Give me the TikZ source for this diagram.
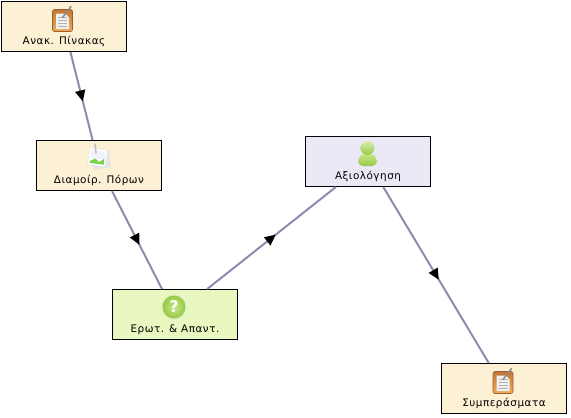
\documentclass[tikz,border=0pt]{standalone}
\usepackage{fontspec}
\setmainfont[LetterSpace=5]{DejaVu Sans}
\usetikzlibrary{arrows.meta,decorations.markings}
\definecolor{creamfill}{RGB}{252,241,212}
\definecolor{greenfill}{RGB}{233,247,193}
\definecolor{lilacfill}{RGB}{235,233,246}
\definecolor{flowgray}{RGB}{140,140,175}
\definecolor{clipdark}{RGB}{196,118,58}
\definecolor{cliplight}{RGB}{238,172,84}
\definecolor{limelight}{RGB}{200,232,135}
\definecolor{limedark}{RGB}{150,200,72}
\tikzset{
  taskbox/.style={draw=black, line width=1pt, inner xsep=0pt, inner ysep=2pt,
    minimum width=125pt, minimum height=50pt,
    text height=39.5pt, text depth=3pt, font=\fontsize{10.4}{12}\selectfont},
  flow/.style={draw=flowgray, line width=2pt, xshift=-1pt, postaction={decorate},
    decoration={markings, mark=at position 0.5 with
      {\arrow[xshift=5.5pt,black]{Triangle[length=11pt,width=10pt]}}}},
  clipicon/.pic={
    \draw[draw=clipdark!80!black, line width=0.6pt, rounded corners=2pt, top color=clipdark, bottom color=cliplight]
      (-10,-11) rectangle (10,11);
    \fill[black!6] (-6.5,-7) -- (3,-7) -- (6.5,-3) -- (6.5,8.5) -- (-6.5,8.5) -- cycle;
    \foreach \liney in {-3,0,3,6}
      \draw[black!30, line width=0.5pt] (-4.5,\liney) -- (4.5,\liney);
    \draw[black!45, line width=1.5pt, line cap=round] (0,-3) -- (8.5,-14);
  },
  photoicon/.pic={
    \fill[black!10, rotate=10] (-7,-6) rectangle (11,11);
    \draw[black!12, fill=white, rotate=-8] (-10,-9) rectangle (8,8);
    \fill[blue!6, rotate=-8] (-8,-7) rectangle (6,1);
    \fill[green!50!olive!70, rotate=-8] (-8,4) -- (-3,1) -- (1,4) -- (6,0) -- (6,6) -- (-8,6) -- cycle;
    \draw[black!25, line width=1.6pt, line cap=round] (-3.5,-14) -- (-2.5,-5);
  },
  helpicon/.pic={
    \fill[limelight!60!white] (0,0) circle (12.7);
    \shade[inner color=limelight, outer color=limedark] (0,0) circle (11.5);
    \node[text=white, font=\bfseries\fontsize{16}{16}\selectfont] (helpmark) at (0,0) {?};
  },
  usericon/.pic={
    \shade[top color=limelight, bottom color=limedark, rounded corners=5pt]
      (-9.5,12.5) -- (-9.5,4) -- (-4,0) -- (4,0) -- (9.5,4) -- (9.5,12.5) -- cycle;
    \shade[top color=limelight!70!white, bottom color=limedark] (0,-5.5) circle (7);
  }
}
\begin{document}
\begin{tikzpicture}[x=1pt,y=-1pt]
\useasboundingbox (0,0) rectangle (571,418);
\node[taskbox, fill=creamfill] (a) at (64,26.5) {Ανακ. Πίνακας};
\node[taskbox, fill=creamfill] (b) at (99,165.5) {Διαμοίρ. Πόρων};
\node[taskbox, fill=greenfill] (c) at (175,314.5) {Ερωτ. \& Απαντ.};
\node[taskbox, fill=lilacfill] (d) at (368,161.5) {Αξιολόγηση};
\node[taskbox, fill=creamfill] (e) at (504,388.5) {Συμπεράσματα};
\draw[flow] (a) -- (b);
\draw[flow] (b) -- (c);
\draw[flow] (c) -- (d);
\draw[flow] (d) -- (e);
\pic at (62.5,20.5) {clipicon};
\pic at (98.5,158) {photoicon};
\pic at (174,307) {helpicon};
\pic at (367.5,153.5) {usericon};
\pic at (503,382.5) {clipicon};
\end{tikzpicture}
\end{document}
